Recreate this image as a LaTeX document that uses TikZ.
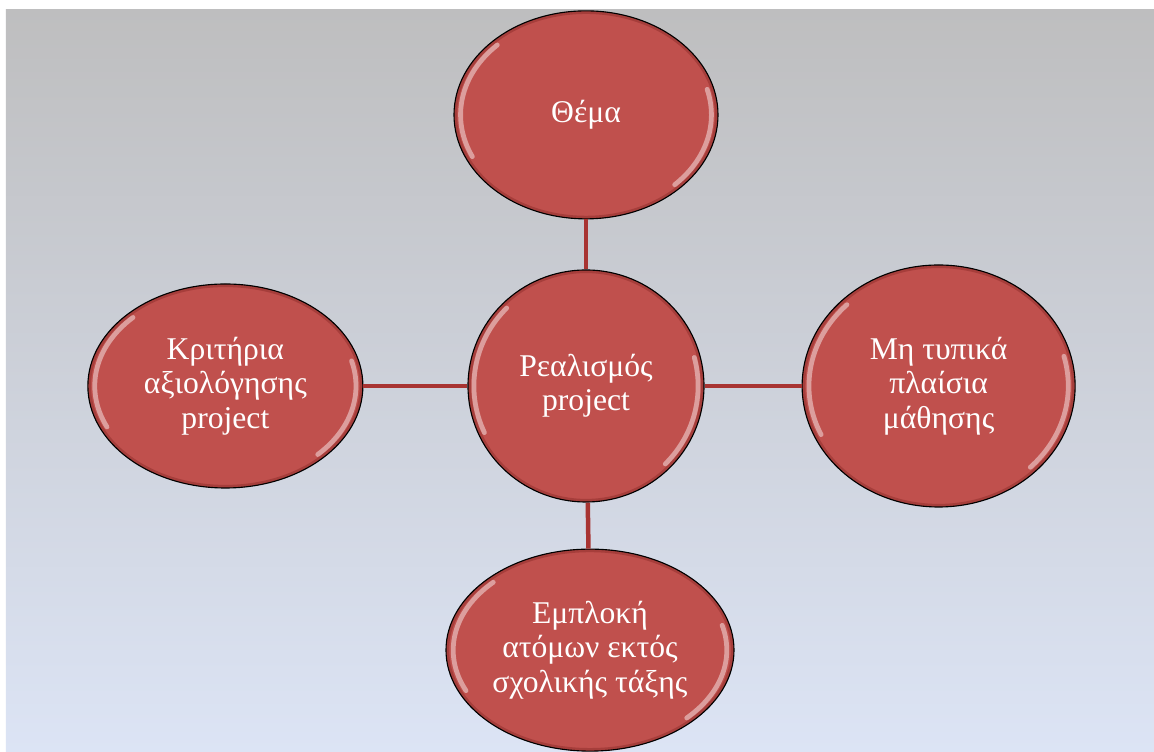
\documentclass[tikz,border=0pt]{standalone}
\usepackage{fontspec}
\setmainfont{Liberation Serif}
\usepackage{tikz}
\usetikzlibrary{shapes.geometric, positioning, calc}
\definecolor{nodered}{RGB}{192,80,77}
\definecolor{rimred}{RGB}{150,50,48}
\definecolor{linkred}{RGB}{168,52,50}
\definecolor{bgtop}{RGB}{190,190,191}
\definecolor{bgmid}{RGB}{192,205,232}
\definecolor{bgbot}{RGB}{220,228,245}
\tikzset{
  gloss/.style={white,opacity=0.45,line width=3.4pt,line cap=round},
  rim/.style={rimred,opacity=0.6,line width=2.4pt},
  bubble/.style={ellipse,draw=black,fill=nodered,text=white,align=center,inner sep=0pt,
    font=\fontsize{22.5}{24.5}\selectfont,line width=0.8pt,
    path picture={
      \draw[rim] let \p1=($(path picture bounding box.north east)-(path picture bounding box.center)$) in
        (path picture bounding box.center) ellipse [x radius={\x1-1pt}, y radius={\y1-1pt}];
      \draw[gloss] let \p1=($(path picture bounding box.north east)-(path picture bounding box.center)$) in
        ($(path picture bounding box.center)+(135:{0.95*\x1} and {0.95*\y1})$)
          arc[start angle=135, end angle=205, x radius={0.95*\x1}, y radius={0.95*\y1}]
        ($(path picture bounding box.center)+(-45:{0.95*\x1} and {0.95*\y1})$)
          arc[start angle=-45, end angle=15, x radius={0.95*\x1}, y radius={0.95*\y1}];
    }},
  link/.style={line width=3.2pt,color=linkred}
}

\begin{document}
\begin{tikzpicture}
  \useasboundingbox (0,0) rectangle (28.85,18.8);
  \fill[white] (0,0) rectangle (28.85,18.8);
  \shade[top color=bgtop, middle color=bgmid, bottom color=bgbot] (0.15,0) rectangle (28.85,18.55);

  \node[bubble, minimum width=5.9cm, minimum height=5.8cm] (real) at (14.65,9.15) {Ρεαλισμός\\project};
  \node[bubble, minimum width=6.6cm, minimum height=5.2cm, above=1.25cm of real] (theme) {Θέμα};
  \node[bubble, minimum width=6.875cm, minimum height=5.1cm, left=2.6cm of real] (crit) {Κριτήρια\\αξιολόγησης\\project};
  \node[bubble, minimum width=6.825cm, minimum height=6.05cm, right=2.425cm of real] (informal) {Μη τυπικά\\πλαίσια\\μάθησης};
  \node[bubble, minimum width=7.2cm, minimum height=5.05cm, below=1.15cm of real, xshift=0.1cm] (invol) {Εμπλοκή\\ατόμων εκτός\\σχολικής τάξης};

  \draw[link] (real) -- (theme);
  \draw[link] (real) -- (crit);
  \draw[link] (real) -- (informal);
  \draw[link] (real) -- (invol);
\end{tikzpicture}
\end{document}
